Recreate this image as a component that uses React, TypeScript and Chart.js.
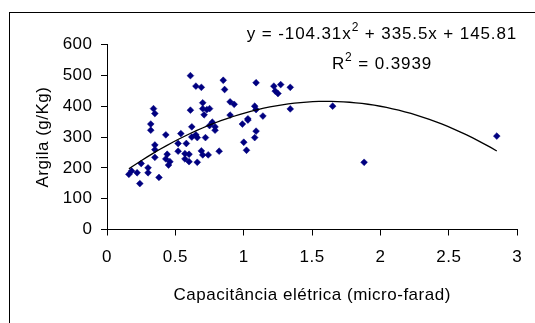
import React, { useEffect, useRef } from "react";
import { Chart, registerables } from "chart.js";

Chart.register(...registerables);

const capacitance = [
  0.16, 0.18, 0.22, 0.24, 0.25, 0.30, 0.30, 0.32, 0.32, 0.34, 0.35, 0.35, 0.35, 0.35, 0.38,
  0.43, 0.44, 0.43, 0.45, 0.46, 0.52, 0.52, 0.54, 0.58, 0.57, 0.57, 0.60, 0.60, 0.61, 0.61,
  0.62, 0.62, 0.65, 0.65, 0.66, 0.66, 0.69, 0.70, 0.70, 0.71, 0.69, 0.70, 0.72, 0.73, 0.75,
  0.74, 0.75, 0.77, 0.79, 0.79, 0.82, 0.85, 0.86, 0.90, 0.90, 0.93, 0.99, 1.00, 1.02, 1.03,
  1.03, 1.08, 1.08, 1.09, 1.09, 1.09, 1.14, 1.22, 1.23, 1.25, 1.27, 1.34, 1.34, 1.65, 1.88,
  2.85,
];
const argila = [
  179, 190, 184, 149, 214, 184, 200, 342, 322, 392, 376, 274, 259, 234, 169,
  307, 244, 229, 209, 220, 279, 254, 311, 279, 246, 229, 244, 220, 499, 387,
  333, 300, 465, 307, 298, 218, 461, 411, 392, 372, 255, 242, 298, 389, 392,
  242, 337, 348, 333, 322, 254, 484, 454, 371, 414, 406, 342, 283, 257, 355,
  359, 400, 298, 476, 319, 389, 368, 465, 449, 441, 470, 461, 391, 400, 218,
  303,
];
// Trendline coefficients shown on the chart: y = a x^2 + b x + c
const trendCoefficients = [-104.31, 335.5, 145.81];
const equationText = ["y = -104.31x", "2", " + 335.5x + 145.81"];
const r2Text = ["R", "2", " = 0.3939"];
const xTitle = "Capacitância elétrica (micro-farad)";
const yTitle = "Argila (g/Kg)";

const FONT = '"Liberation Sans", Arial, sans-serif';

export default function App() {
  const canvasRef = useRef<HTMLCanvasElement | null>(null);

  useEffect(() => {
    const canvas = canvasRef.current;
    if (!canvas) return;
    const points = capacitance.map((x, i) => ({ x, y: argila[i] }));
    const minX = Math.min(...capacitance);
    const maxX = Math.max(...capacitance);
    const [a, b, c] = trendCoefficients;
    const trend: { x: number; y: number }[] = [];
    const n = 60;
    for (let i = 0; i <= n; i++) {
      const x = minX + ((maxX - minX) * i) / n;
      trend.push({ x, y: a * x * x + b * x + c });
    }

    const spacing = {
      id: "spacing",
      beforeLayout(chart: any) {
        chart.ctx.letterSpacing = "0.5px";
      },
      beforeDraw(chart: any) {
        chart.ctx.letterSpacing = "0.5px";
      },
    };

    const chart = new Chart(canvas, {
      type: "scatter",
      data: {
        datasets: [
          {
            data: points,
            backgroundColor: "#000080",
            borderColor: "#000080",
            borderWidth: 0.5,
            pointStyle: "rectRot",
            pointRadius: 3.4,
            order: 2,
          },
          {
            type: "line",
            data: trend,
            borderColor: "#000000",
            borderWidth: 1.3,
            pointRadius: 0,
            fill: false,
            tension: 0,
            order: 1,
          } as any,
        ],
      },
      plugins: [spacing],
      options: {
        animation: false,
        responsive: false,
        devicePixelRatio: 1,
        layout: { padding: { left: 0, top: 44.5, right: 17.7, bottom: 0 } },
        plugins: {
          legend: { display: false },
          tooltip: { enabled: false },
        },
        scales: {
          x: {
            type: "linear",
            min: 0,
            max: 3,
            ticks: {
              stepSize: 0.5,
              color: "#000",
              font: { family: FONT, size: 17 },
              padding: 12,
              maxRotation: 0,
              callback: (v: any) => String(Number(v)),
            },
            grid: {
              drawOnChartArea: false,
              drawTicks: true,
              tickLength: 6,
              color: "#000",
              lineWidth: 1,
            },
            border: { display: true, color: "#000", width: 1 },
            title: {
              display: true,
              text: xTitle,
              color: "#000",
              font: { family: FONT, size: 17 },
              padding: { top: 0, bottom: 17 },
            },
            afterFit(scale: any) {
              scale.height = 323 - 229.5;
            },
          },
          y: {
            type: "linear",
            min: 0,
            max: 600,
            ticks: {
              stepSize: 100,
              color: "#000",
              font: { family: FONT, size: 17 },
              padding: 8.5,
            },
            grid: {
              drawOnChartArea: false,
              drawTicks: true,
              tickLength: 6,
              color: "#000",
              lineWidth: 1,
            },
            border: { display: true, color: "#000", width: 1 },
            title: {
              display: true,
              text: yTitle,
              color: "#000",
              font: { family: FONT, size: 17 },
              padding: { top: 33.5, bottom: 0 },
            },
            afterFit(scale: any) {
              scale.width = 107;
            },
          },
        },
      },
    });
    return () => chart.destroy();
  }, []);

  const lineStyle: React.CSSProperties = {
    position: "absolute",
    left: 382,
    transform: "translateX(-50%)",
    whiteSpace: "nowrap",
    fontFamily: FONT,
    fontSize: 17,
    lineHeight: "20px",
    letterSpacing: "0.9px",
    color: "#000",
  };
  const supStyle: React.CSSProperties = {
    position: "relative",
    top: -8,
    fontSize: 12,
    lineHeight: 0,
  };

  return (
    <div
      style={{
        position: "absolute",
        left: 0,
        top: 0,
        width: 535,
        height: 323,
        background: "#fff",
        overflow: "hidden",
      }}
    >
      <canvas
        ref={canvasRef}
        width={535}
        height={323}
        style={{ position: "absolute", left: 0, top: 0, width: 535, height: 323 }}
      />
      <div
        style={{
          position: "absolute",
          left: 9,
          top: 12,
          width: 600,
          height: 400,
          borderTop: "1px solid #000",
          borderLeft: "1px solid #000",
          pointerEvents: "none",
        }}
      />
      <div style={{ ...lineStyle, top: 24 }}>
        {equationText[0]}
        <span style={supStyle}>{equationText[1]}</span>
        {equationText[2]}
      </div>
      <div style={{ ...lineStyle, top: 53.5 }}>
        {r2Text[0]}
        <span style={supStyle}>{r2Text[1]}</span>
        {r2Text[2]}
      </div>
    </div>
  );
}
